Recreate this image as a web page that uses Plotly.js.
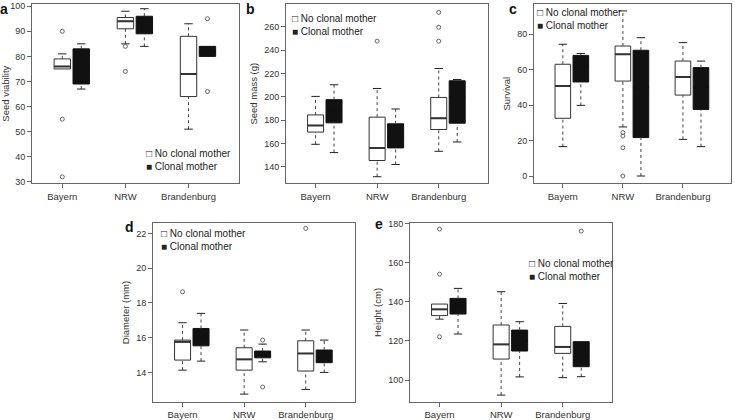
<!DOCTYPE html>
<html>
<head>
<meta charset="utf-8">
<script src="https://cdn.plot.ly/plotly-3.0.1.min.js"></script>
<style>
  body { margin: 0; background: #fff; }
  #chart { width: 735px; height: 420px; }
</style>
</head>
<body>
<div id="chart"></div>
<script>
const regions = ['Bayern', 'NRW', 'Brandenburg'];

// each row: [lower whisker, q1, median, q3, upper whisker] for Bayern, NRW, Brandenburg
const viabilityNo = [[75, 75, 76, 79, 81], [85, 91, 94, 95.5, 98], [51, 64, 73, 88, 93]];
const viabilityNoOut = [[90, 55, 32], [84, 74], []];
const viabilityCl = [[67, 69, 76, 83, 85], [84, 89, 94, 96, 99], [80, 80, 82, 84, 84]];
const viabilityClOut = [[], [], [95, 66]];

const massNo = [[159.3, 169.8, 175.5, 184.5, 200.4], [131.5, 145.4, 156.2, 182.6, 207.2], [153.3, 172, 181.7, 199.5, 224.3]];
const massNoOut = [[], [247.8], [272.5, 259.7, 247.8]];
const massCl = [[152.2, 177.7, 188, 197.6, 210.4], [142, 156.2, 166, 176.9, 189.6], [161.3, 177.4, 200, 213.8, 214.9]];
const massClOut = [[], [], []];

const survivalNo = [[16.6, 32.6, 50.8, 63.1, 74.4], [27.7, 53.6, 68.7, 73.4, 93.2], [20.7, 45.7, 55.9, 64.9, 75.3]];
const survivalNoOut = [[], [24.5, 22.6, 16, 0], []];
const survivalCl = [[39.9, 53.1, 62, 68.1, 69.2], [0, 21.7, 50, 71, 78.1], [16.6, 37.6, 50, 61.2, 64.9]];
const survivalClOut = [[], [], []];

const diameterNo = [[14.13, 14.71, 15.76, 15.86, 16.86], [12.75, 14.13, 14.75, 15.42, 16.44], [13.02, 14.08, 15.09, 15.82, 16.44]];
const diameterNoOut = [[18.64], [], [22.29]];
const diameterCl = [[14.65, 15.53, 16, 16.53, 17.4], [14.61, 14.84, 15, 15.23, 15.63], [14.0, 14.56, 14.9, 15.29, 15.86]];
const diameterClOut = [[], [15.86, 13.16], []];

const heightNo = [[131.1, 132.9, 136.1, 138.8, 138.8], [92.3, 110.7, 118.2, 128.1, 145.1], [101.2, 113.6, 116.9, 127.4, 139.1]];
const heightNoOut = [[177.1, 154.1, 122.1], [], []];
const heightCl = [[123.5, 133.7, 138, 141.7, 146.8], [101.6, 114.8, 120, 125.5, 129.8], [101.7, 106.8, 112, 119.6, 119.6]];
const heightClOut = [[], [], [176.1]];

const font = 'Liberation Sans, Arial, sans-serif';
const boxW = 0.26;
const shift = 0.3;

const traces = [];

function addGroup(k, stats, outs, offset, fill) {
  const xa = k === 1 ? 'x' : 'x' + k;
  const ya = k === 1 ? 'y' : 'y' + k;
  const pos = regions.map((r, i) => i + offset);
  const edge = fill === '#fff' ? '#333' : '#111';

  // dotted whiskers
  const wx = [], wy = [];
  stats.forEach((s, i) => {
    wx.push(pos[i], pos[i], null, pos[i], pos[i], null);
    wy.push(s[0], s[1], null, s[3], s[4], null);
  });
  traces.push({
    type: 'scatter', mode: 'lines', x: wx, y: wy, xaxis: xa, yaxis: ya,
    line: {color: '#444', width: 1, dash: 'dot'}, showlegend: false, hoverinfo: 'skip'
  });

  // whisker caps
  const cx = [], cy = [];
  stats.forEach((s, i) => {
    if (s[0] < s[1]) { cx.push(pos[i]); cy.push(s[0]); }
    if (s[4] > s[3]) { cx.push(pos[i]); cy.push(s[4]); }
  });
  traces.push({
    type: 'scatter', mode: 'markers', x: cx, y: cy, xaxis: xa, yaxis: ya,
    marker: {symbol: 'line-ew', size: 6, color: '#222', line: {color: '#222', width: 1}},
    showlegend: false, hoverinfo: 'skip'
  });

  traces.push({
    type: 'box', x: pos, xaxis: xa, yaxis: ya,
    q1: stats.map(s => s[1]), median: stats.map(s => s[2]), q3: stats.map(s => s[3]),
    lowerfence: stats.map(s => s[1]), upperfence: stats.map(s => s[3]),
    width: boxW, whiskerwidth: 0, boxpoints: false,
    fillcolor: fill, line: {color: edge, width: 1},
    showlegend: false, hoverinfo: 'skip'
  });

  // thicker median line
  traces.push({
    type: 'scatter', mode: 'markers', x: pos, y: stats.map(s => s[2]), xaxis: xa, yaxis: ya,
    marker: {symbol: 'line-ew', size: 11.2, color: edge, line: {color: edge, width: 2}},
    showlegend: false, hoverinfo: 'skip'
  });

  // outliers
  const ox = [], oy = [];
  outs.forEach((o, i) => o.forEach(v => { ox.push(pos[i]); oy.push(v); }));
  traces.push({
    type: 'scatter', mode: 'markers', x: ox, y: oy, xaxis: xa, yaxis: ya,
    marker: {symbol: 'circle-open', size: 4, color: '#666', line: {color: '#666', width: 1}},
    showlegend: false, hoverinfo: 'skip'
  });
}

const panels = [
  [viabilityNo, viabilityNoOut, viabilityCl, viabilityClOut],
  [massNo, massNoOut, massCl, massClOut],
  [survivalNo, survivalNoOut, survivalCl, survivalClOut],
  [diameterNo, diameterNoOut, diameterCl, diameterClOut],
  [heightNo, heightNoOut, heightCl, heightClOut]
];
panels.forEach((p, j) => {
  addGroup(j + 1, p[0], p[1], 0, '#fff');
  addGroup(j + 1, p[2], p[3], shift, '#111');
});

function xAxis(dom, anchor) {
  return {
    domain: dom, anchor: anchor, range: [-0.48, 2.8],
    tickmode: 'array', tickvals: [0, 1, 2], ticktext: regions,
    showline: true, mirror: true, linecolor: '#666', linewidth: 1,
    ticks: 'outside', ticklen: 4, tickcolor: '#666', showgrid: false, zeroline: false,
    tickfont: {family: font, size: 9.5, color: '#333'}
  };
}
function yAxis(dom, anchor, range, dtick, title) {
  return {
    domain: dom, anchor: anchor, range: range, tick0: 0, dtick: dtick,
    showline: true, mirror: true, linecolor: '#666', linewidth: 1,
    ticks: 'outside', ticklen: 4, tickcolor: '#666', showgrid: false, zeroline: false,
    ticklabeloverflow: 'allow',
    tickfont: {family: font, size: 9, color: '#333'},
    title: {text: title, font: {family: font, size: 9.5, color: '#333'}, standoff: 4}
  };
}

const topY = [0.564, 0.99];
const botY = [0.043, 0.469];

function letter(t, x, y) {
  return {text: '<b>' + t + '</b>', xref: 'paper', yref: 'paper', x: x / 735, y: 1 - y / 420,
    xanchor: 'left', yanchor: 'middle', showarrow: false, font: {family: font, size: 14, color: '#111'}};
}
function key(x, y) {
  return {text: '\u25A1 No clonal mother<br>\u25A0 Clonal mother', xref: 'paper', yref: 'paper',
    x: x / 735, y: 1 - y / 420, xanchor: 'left', yanchor: 'top', align: 'left', showarrow: false,
    font: {family: font, size: 10, color: '#222'}};
}

const layout = {
  width: 735, height: 420,
  margin: {l: 0, r: 0, t: 0, b: 0},
  paper_bgcolor: '#fff', plot_bgcolor: '#fff',
  showlegend: false,
  xaxis: xAxis([32 / 735, 239 / 735], 'y'),
  yaxis: yAxis(topY, 'x', [29.5, 100.8], 10, 'Seed viability'),
  xaxis2: xAxis([286 / 735, 488 / 735], 'y2'),
  yaxis2: yAxis(topY, 'x2', [126, 279.5], 20, 'Seed mass (g)'),
  xaxis3: xAxis([534 / 735, 731 / 735], 'y3'),
  yaxis3: yAxis(topY, 'x3', [-4, 97], 20, 'Survival'),
  xaxis4: xAxis([153 / 735, 355 / 735], 'y4'),
  yaxis4: yAxis(botY, 'x4', [12.3, 22.6], 2, 'Diameter (mm)'),
  xaxis5: xAxis([410 / 735, 612 / 735], 'y5'),
  yaxis5: yAxis(botY, 'x5', [88.8, 180.2], 20, 'Height (cm)'),
  annotations: [
    letter('a', -2, 9), letter('b', 244, 9), letter('c', 507, 9),
    letter('d', 123, 227), letter('e', 373, 224),
    key(144, 146), key(290, 11), key(535, 5), key(159, 226), key(527, 256)
  ]
};

Plotly.newPlot('chart', traces, layout, {staticPlot: true});
</script>
</body>
</html>
